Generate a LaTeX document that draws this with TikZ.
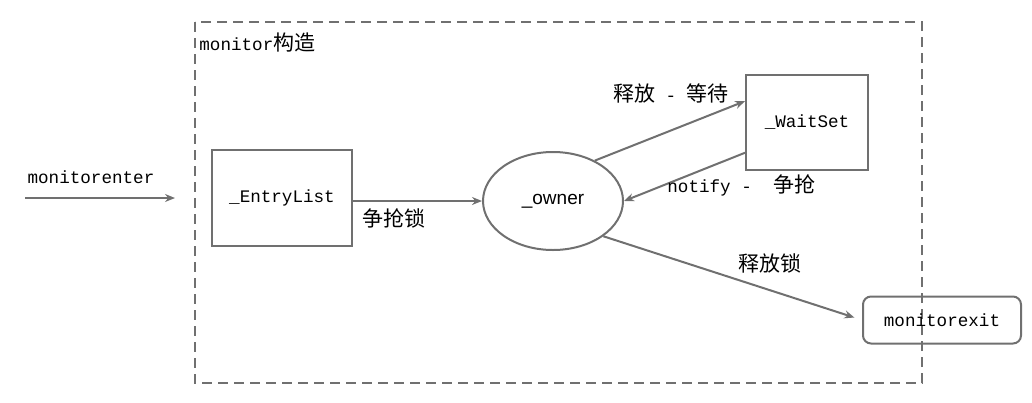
\documentclass[tikz,border=0pt]{standalone}
\usepackage{fontspec}
\usepackage{tikz}
\usetikzlibrary{shapes.geometric, arrows.meta, positioning, calc}
\newfontfamily\cjk{Noto Sans CJK SC}
\newfontfamily\mono{Liberation Mono}
\newfontfamily\sans{Liberation Sans}
\definecolor{LineGray}{HTML}{707070}

\begin{document}
\begin{tikzpicture}[x=0.5pt, y=-0.5pt,
  box/.style={draw=LineGray, line width=1pt, minimum width=#1, inner sep=0pt},
  flow/.style={-{Stealth[length=5pt, width=4pt]}, draw=LineGray, line width=1pt},
  lbl/.style={font=\mono\fontsize{8.8}{10}\selectfont, inner sep=0pt},
  zh/.style={font=\cjk\fontsize{10.5}{12}\selectfont, inner sep=0pt}]
\useasboundingbox (0,0) rectangle (1032,402);
% --- Monitor frame ---
\draw[LineGray, line width=1pt, dash pattern=on 5pt off 3pt] (195,22) rectangle (922,383);
\node[lbl, anchor=west] (title) at (199,43) {monitor{\cjk\fontsize{10.5}{12}\selectfont 构造}};
% --- Boxes ---
\node[box=70pt, minimum height=48pt, lbl] (entry) at (282,198) {\_EntryList};
\node[box=70pt, minimum height=49pt, ellipse, font=\sans\fontsize{9.5}{11}\selectfont] (owner) at (553,201) {\_owner};
\node[box=61pt, minimum height=47.5pt, lbl] (waitset) at (807,122.5) {\_WaitSet};
\node[box=79pt, minimum height=23.5pt, rounded corners=4pt, lbl] (exit) at (942,320) {monitorexit};
% --- Entry ---
\coordinate (in) at (25,198);
\coordinate (inend) at (175,198);
\draw[flow] (in) -- (inend);
\node[lbl] (entertxt) at (91,177) {monitorenter};
% --- Transitions ---
\draw[flow] (entry.east |- owner.west) -- (owner.west);
\node[zh] (grab) at (394,218) {争抢锁};
\draw[flow] (owner.44) -- (waitset.161);
\node[zh] (release) at (671,93) {释放{\mono\fontsize{8.8}{10}\selectfont{} - }等待};
\draw[flow] (waitset.206) -- (owner.east);
\node[lbl, anchor=west] (notify) at (667,185) {notify\ -\ \ {\cjk\fontsize{10.5}{12}\selectfont 争抢}};
\draw[flow, shorten >=4pt] (owner.-35) -- (exit.west);
\node[zh] (leave) at (770,263) {释放锁};
\end{tikzpicture}
\end{document}
